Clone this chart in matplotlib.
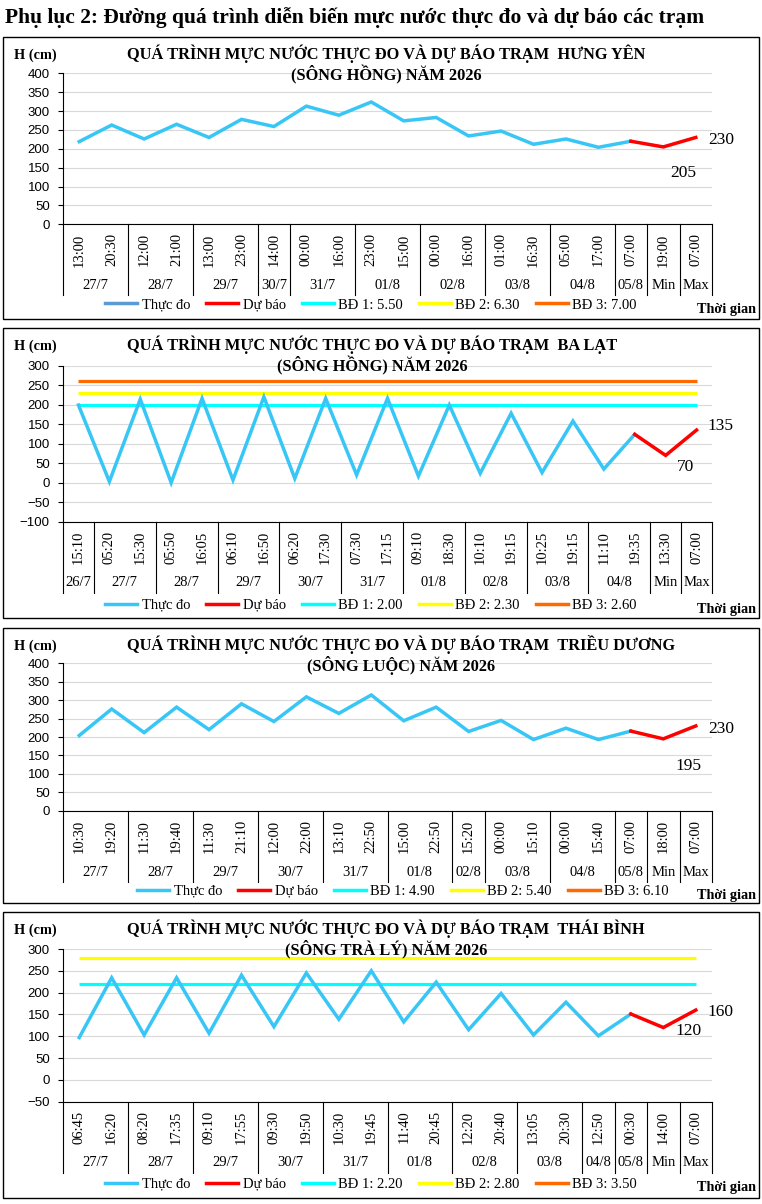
import matplotlib
matplotlib.use("Agg")
import matplotlib.pyplot as plt
import matplotlib.transforms as mtransforms
from matplotlib.lines import Line2D
from matplotlib.patches import Rectangle
import numpy as np

SERIF = ['Liberation Serif', 'DejaVu Serif']
SANS = ['Liberation Sans', 'DejaVu Sans']

W, H = 762, 1204

# ---- Hưng Yên
hy_times = ['13:00', '20:30', '12:00', '21:00', '13:00', '23:00', '14:00', '00:00', '16:00',
            '23:00', '15:00', '00:00', '16:00', '01:00', '16:30', '05:00', '17:00', '07:00',
            '19:00', '07:00']
hy_dates = ['27/7', '28/7', '29/7', '30/7', '31/7', '01/8', '02/8', '03/8', '04/8', '05/8', 'Min', 'Max']
hy_groups = [2, 2, 2, 1, 2, 2, 2, 2, 2, 1, 1, 1]
hy_obs = [219, 263, 226, 265, 230, 278, 259, 313, 289, 324, 274, 283, 234, 247, 212, 226, 204, 220]
hy_fc = [220, 205, 230]
hy_bd = [550, 630, 700]

# ---- Ba Lạt
bl_times = ['15:10', '05:20', '15:30', '05:50', '16:05', '06:10', '16:50', '06:20', '17:30',
            '07:30', '17:15', '09:10', '18:30', '10:10', '19:15', '10:25', '19:15', '11:10',
            '19:35', '13:30', '07:00']
bl_dates = ['26/7', '27/7', '28/7', '29/7', '30/7', '31/7', '01/8', '02/8', '03/8', '04/8', 'Min', 'Max']
bl_groups = [1, 2, 2, 2, 2, 2, 2, 2, 2, 2, 1, 1]
bl_obs = [199, 3, 214, 0, 216, 7, 220, 11, 216, 20, 216, 17, 199, 24, 178, 26, 158, 35, 124]
bl_fc = [124, 70, 135]
bl_bd = [200, 230, 260]

# ---- Triều Dương
td_times = ['10:30', '19:20', '11:30', '19:40', '11:30', '21:10', '12:00', '22:00', '13:10',
            '22:50', '15:00', '22:50', '15:20', '00:00', '15:10', '00:00', '15:40', '07:00',
            '18:00', '07:00']
td_dates = ['27/7', '28/7', '29/7', '30/7', '31/7', '01/8', '02/8', '03/8', '04/8', '05/8', 'Min', 'Max']
td_groups = [2, 2, 2, 2, 2, 2, 1, 2, 2, 1, 1, 1]
td_obs = [204, 276, 212, 281, 220, 290, 242, 309, 264, 314, 244, 281, 215, 245, 193, 224, 193, 216]
td_fc = [216, 195, 230]
td_bd = [490, 540, 610]

# ---- Thái Bình
tb_times = ['06:45', '16:20', '08:20', '17:35', '09:10', '17:55', '09:30', '19:50', '10:30',
            '19:45', '11:40', '20:45', '12:20', '20:40', '13:05', '20:30', '12:50', '00:30',
            '14:00', '07:00']
tb_dates = ['27/7', '28/7', '29/7', '30/7', '31/7', '01/8', '02/8', '03/8', '04/8', '05/8', 'Min', 'Max']
tb_groups = [2, 2, 2, 2, 2, 2, 2, 2, 1, 1, 1, 1]
tb_obs = [97, 234, 103, 234, 107, 240, 122, 245, 139, 250, 133, 224, 115, 198, 103, 178, 101, 151]
tb_fc = [151, 120, 160]
tb_bd = [220, 280, 350]

OBS_C = '#38c6f6'
FC_C = '#ff0000'
BD_C = ['#00ffff', '#ffff00', '#ff6a00']


def fx(x):
    return x / W


def fy(y):
    return 1 - y / H


fig = plt.figure(figsize=(W / 100, H / 100), dpi=100)
fig.text(fx(5), fy(18), 'Phụ lục 2: Đường quá trình diễn biến mực nước thực đo và dự báo các trạm',
         family=SERIF, fontsize=15.5, fontweight='bold', ha='left', va='center')


def panel(box, ax_top, ax_bot, date_y, sep_y, leg_y, leg_x, title, times, dates, groups,
          obs, fc, bd, ylim, yticks, bd_txt, min_lab, max_lab, leg_obs_c=OBS_C):
    fig.patches.append(Rectangle((fx(3), fy(box[1])), fx(756), (box[1] - box[0]) / H,
                                 transform=fig.transFigure, fill=False, ec='black', lw=1.0))
    ax = fig.add_axes([fx(63), fy(ax_bot), fx(649), (ax_bot - ax_top) / H])
    n = len(times)
    x = np.arange(n)
    ax.set_xlim(-0.5, n - 0.5)
    ax.set_ylim(*ylim)
    ax.set_yticks(yticks)
    ax.yaxis.grid(True, color='#d9d9d9', lw=0.8)
    ax.set_axisbelow(True)
    for s in ['top', 'right']:
        ax.spines[s].set_visible(False)
    ax.spines['left'].set_lw(0.8)
    ax.spines['bottom'].set_lw(0.8)
    ax.tick_params(axis='y', direction='out', length=3.5, width=0.8, pad=6, labelsize=9.5)
    for lab in ax.get_yticklabels():
        lab.set_family(SANS)
    ax.set_xticks(x)
    ax.set_xticklabels(times, rotation=90, family=SERIF, fontsize=10.5)
    ax.tick_params(axis='x', length=0, pad=6.5)

    for val, c in zip(bd, BD_C):
        ax.plot(x, [val] * n, color=c, lw=2.3, solid_capstyle='butt', clip_on=True)
    no = len(obs)
    ax.plot(x[:no], obs, color=OBS_C, lw=2.5, solid_joinstyle='miter')
    ax.plot(x[no - 1:no + 2], fc, color=FC_C, lw=2.5, solid_joinstyle='miter')

    ax.annotate(str(fc[1]), (x[no], fc[1]), xytext=(min_lab[0], min_lab[1]), textcoords='offset pixels',
                family=SERIF, fontsize=12.5, ha='center', va='center')
    ax.annotate(str(fc[2]), (x[no + 1], fc[2]), xytext=(max_lab[0], max_lab[1]), textcoords='offset pixels',
                family=SERIF, fontsize=12.5, ha='center', va='center')

    tr = mtransforms.blended_transform_factory(ax.transData, fig.transFigure)
    edges = np.concatenate([[0], np.cumsum(groups)]) - 0.5
    for e in edges:
        ax.plot([e, e], [fy(ax_bot), fy(sep_y)], transform=tr, color='black', lw=0.8, clip_on=False)
    for d, a, b in zip(dates, edges[:-1], edges[1:]):
        ax.text((a + b) / 2, fy(date_y), d, transform=tr, family=SERIF, fontsize=10.5,
                ha='center', va='center')

    fig.text(fx(127), fy(box[0] + 27), title, family=SERIF, fontsize=11.8, fontweight='bold',
             ha='left', va='center', multialignment='center', linespacing=1.15)
    fig.text(fx(14), fy(box[0] + 18), 'H (cm)', family=SERIF, fontsize=10.3, fontweight='bold',
             ha='left', va='center')
    fig.text(fx(756), fy(leg_y + 4), 'Thời gian', family=SERIF, fontsize=10.3, fontweight='bold',
             ha='right', va='center')

    handles = [Line2D([], [], color=leg_obs_c, lw=2.5), Line2D([], [], color=FC_C, lw=2.5)]
    handles += [Line2D([], [], color=c, lw=2.5) for c in BD_C]
    labels = ['Thực đo', 'Dự báo'] + ['BĐ %d: %s' % (i + 1, t) for i, t in enumerate(bd_txt)]
    fig.legend(handles, labels, loc='center', bbox_to_anchor=(fx(leg_x), fy(leg_y)), ncol=5,
               frameon=False, prop={'family': SERIF, 'size': 10.5}, handlelength=2.2,
               handletextpad=0.3, columnspacing=1.1, borderpad=0, borderaxespad=0)
    return ax


panel((37, 319), 73.3, 224.3, 286, 295, 305, 371,
      'QUÁ TRÌNH MỰC NƯỚC THỰC ĐO VÀ DỰ BÁO TRẠM  HƯNG YÊN\n(SÔNG HỒNG) NĂM 2026',
      hy_times, hy_dates, hy_groups, hy_obs, hy_fc, hy_bd, (0, 400), range(0, 401, 50),
      ['5.50', '6.30', '7.00'], (20, -26), (25, -3), leg_obs_c='#5b9bd5')

panel((328, 618), 365.7, 521.7, 583, 593, 605, 371,
      'QUÁ TRÌNH MỰC NƯỚC THỰC ĐO VÀ DỰ BÁO TRẠM  BA LẠT\n(SÔNG HỒNG) NĂM 2026',
      bl_times, bl_dates, bl_groups, bl_obs, bl_fc, bl_bd, (-100, 300), range(-100, 301, 50),
      ['2.00', '2.30', '2.60'], (20, -12), (24, 4))

panel((628, 903), 663.3, 810.7, 872, 882, 891, 403,
      'QUÁ TRÌNH MỰC NƯỚC THỰC ĐO VÀ DỰ BÁO TRẠM  TRIỀU DƯƠNG\n(SÔNG LUỘC) NĂM 2026',
      td_times, td_dates, td_groups, td_obs, td_fc, td_bd, (0, 400), range(0, 401, 50),
      ['4.90', '5.40', '6.10'], (25, -27), (25, -3))

panel((912, 1198), 949, 1101.7, 1163, 1173, 1184, 371,
      'QUÁ TRÌNH MỰC NƯỚC THỰC ĐO VÀ DỰ BÁO TRẠM  THÁI BÌNH\n(SÔNG TRÀ LÝ) NĂM 2026',
      tb_times, tb_dates, tb_groups, tb_obs, tb_fc, tb_bd, (-50, 300), range(-50, 301, 50),
      ['2.20', '2.80', '3.50'], (25, -3), (25, -2))

fig.savefig('out.png', dpi=100)
